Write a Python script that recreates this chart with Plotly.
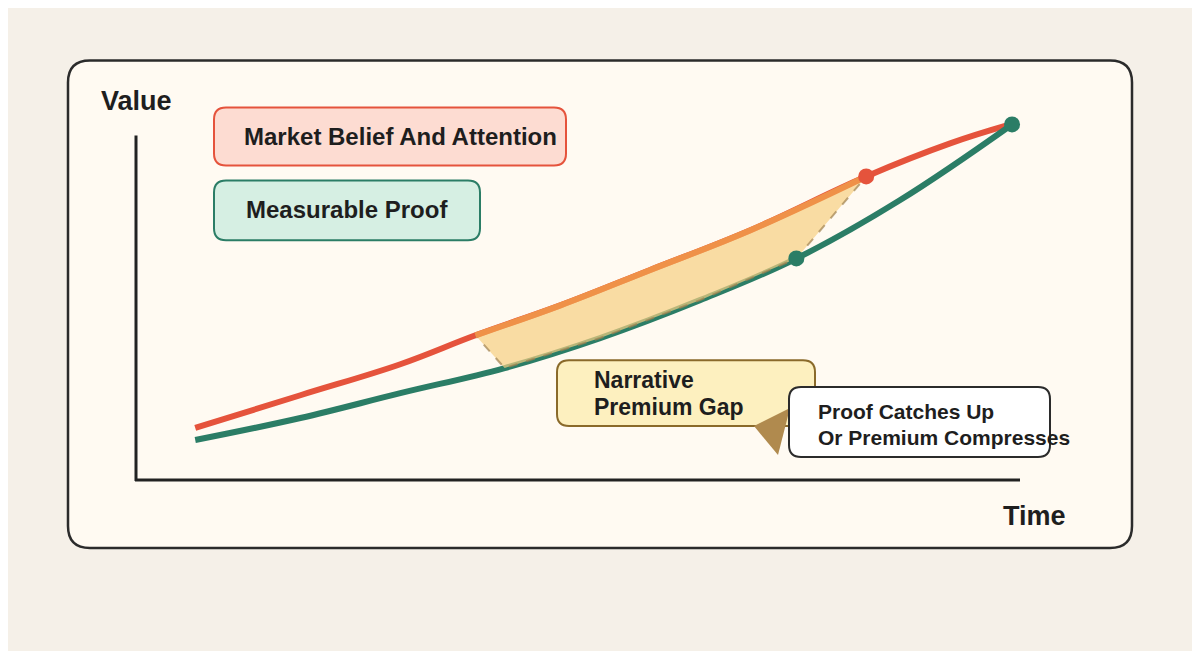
import plotly.graph_objects as go

W, H = 1200, 651
OFF = 8  # page body margin compensation
L, R, T, B = 136 - OFF, 1020 - OFF, 480 - OFF - 34.5 * 11, 480 - OFF

# data (time, value) in axis units
belief_x = [0.67, 1.86, 2.99, 3.84, 4.80, 5.81, 6.95, 8.26, 9.21, 9.89]
belief_y = [1.51, 2.46, 3.36, 4.20, 5.07, 6.09, 7.25, 8.81, 9.77, 10.32]
proof_x = [0.67, 1.86, 2.99, 4.17, 5.25, 6.38, 7.47, 8.64, 9.91]
proof_y = [1.16, 1.80, 2.52, 3.25, 4.12, 5.22, 6.43, 8.12, 10.32]
gap_belief_idx = (3, 8)
gap_proof_idx = (3, 7)

RED, GREEN, ORANGE = "#e5533c", "#2b7d66", "#ef9148"

def px(x): return (x - OFF - L) / (R - L)
def py(y): return (B - (y - OFF)) / (B - T)

def rrect(x0, y0, x1, y1, r):
    pts = [f"M{px(x0+r)},{py(y0)}", f"L{px(x1-r)},{py(y0)}", f"Q{px(x1)},{py(y0)} {px(x1)},{py(y0+r)}",
           f"L{px(x1)},{py(y1-r)}", f"Q{px(x1)},{py(y1)} {px(x1-r)},{py(y1)}",
           f"L{px(x0+r)},{py(y1)}", f"Q{px(x0)},{py(y1)} {px(x0)},{py(y1-r)}",
           f"L{px(x0)},{py(y0+r)}", f"Q{px(x0)},{py(y0)} {px(x0+r)},{py(y0)}", "Z"]
    return " ".join(pts)

fig = go.Figure()
bx = belief_x[gap_belief_idx[0]:gap_belief_idx[1]]
by = belief_y[gap_belief_idx[0]:gap_belief_idx[1]]
gx = proof_x[gap_proof_idx[0]:gap_proof_idx[1]]
gy = proof_y[gap_proof_idx[0]:gap_proof_idx[1]]

fig.add_trace(go.Scatter(x=belief_x, y=belief_y, mode="lines", line=dict(color=RED, width=6, shape="spline", smoothing=1.1)))
fig.add_trace(go.Scatter(x=proof_x, y=proof_y, mode="lines", line=dict(color=GREEN, width=6, shape="spline", smoothing=1.1)))
fig.add_trace(go.Scatter(x=bx + gx[::-1] + [bx[0]], y=by + gy[::-1] + [by[0]], mode="lines", fill="toself",
                         fillcolor="rgba(246,206,130,0.7)", line=dict(color="rgba(160,130,80,0.7)", width=2, dash="dash")))
fig.add_trace(go.Scatter(x=bx, y=by, mode="lines", line=dict(color=ORANGE, width=6, shape="spline", smoothing=1.1)))
fig.add_trace(go.Scatter(x=[belief_x[7]], y=[belief_y[7]], mode="markers", marker=dict(color=RED, size=16), cliponaxis=False))
fig.add_trace(go.Scatter(x=[proof_x[6], proof_x[-1]], y=[proof_y[6], proof_y[-1]], mode="markers", marker=dict(color=GREEN, size=16), cliponaxis=False))

shapes = [
    dict(type="path", path=rrect(68, 60, 1132, 548, 22), xref="paper", yref="paper", fillcolor="#fffaf2", line=dict(color="#2b2b2b", width=2.5), layer="below"),
    dict(type="line", xref="paper", yref="paper", x0=px(136), y0=py(135), x1=px(136), y1=py(481), line=dict(color="#222", width=3)),
    dict(type="line", xref="paper", yref="paper", x0=px(135), y0=py(480), x1=px(1020), y1=py(480), line=dict(color="#222", width=3)),
    dict(type="path", path=rrect(214, 107, 566, 165, 12), xref="paper", yref="paper", fillcolor="#fddcd2", line=dict(color=RED, width=2)),
    dict(type="path", path=rrect(214, 180, 480, 240, 12), xref="paper", yref="paper", fillcolor="#d6efe3", line=dict(color=GREEN, width=2)),
    dict(type="path", path=rrect(557, 360, 815, 426, 12), xref="paper", yref="paper", fillcolor="#fdf0bf", line=dict(color="#8a6a2a", width=2)),
    dict(type="path", path=f"M{px(754)},{py(426)} L{px(790)},{py(408)} L{px(778)},{py(455)} Z", xref="paper", yref="paper", fillcolor="#b08a4e", line=dict(width=0)),
    dict(type="path", path=rrect(789, 387, 1050, 457, 12), xref="paper", yref="paper", fillcolor="#ffffff", line=dict(color="#2b2b2b", width=2)),
]

F = "Liberation Sans"
def txt(x, y, s, size, anchor="left"):
    return dict(xref="paper", yref="paper", x=px(x), y=py(y), text=s, showarrow=False, xanchor=anchor, yanchor="middle",
                align="left", font=dict(family=F, size=size, color="#1e1e1e"))

ann = [
    txt(99, 101, "<b>Value</b>", 27),
    txt(1001, 516, "<b>Time</b>", 27),
    txt(242, 136, "<b>Market Belief And Attention</b>", 24),
    txt(244, 209, "<b>Measurable Proof</b>", 24),
    txt(592, 380, "<b>Narrative</b>", 23),
    txt(592, 407, "<b>Premium Gap</b>", 23),
    txt(816, 411, "<b>Proof Catches Up</b>", 21),
    txt(816, 437, "<b>Or Premium Compresses</b>", 21),
]

fig.update_layout(width=W, height=H, margin=dict(l=L, r=W - R, t=T, b=H - B), showlegend=False,
                  paper_bgcolor="#f5f0e8", plot_bgcolor="rgba(0,0,0,0)", shapes=shapes, annotations=ann,
                  xaxis=dict(range=[0, 10], visible=False), yaxis=dict(range=[0, 11], visible=False))
fig.write_html("out.html")
